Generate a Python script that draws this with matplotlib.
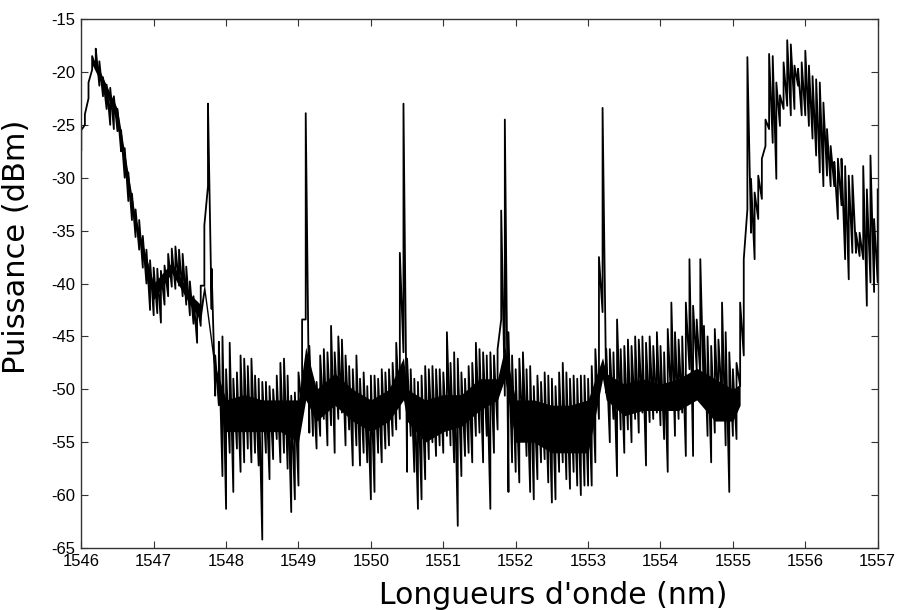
import numpy as np
import matplotlib.pyplot as plt

plt.rcParams['axes.unicode_minus'] = False

# wavelength grid (nm), one sample every 0.05 nm
wl = np.round(np.arange(1546.0, 1557.001, 0.05), 2)

# lower / upper trace level (dBm) seen at each sample
p_lo = [
    -27.4, -25.0, -22.5, -19.8, -19.5, -21.3, -22.3, -23.5, -25.0, -25.4,
    -25.6, -27.5, -30.0, -32.2, -34.0, -35.6, -36.8, -38.5, -40.0, -42.5,
    -43.0, -42.8, -43.7, -42.0, -41.2, -40.3, -40.5, -40.2, -41.2, -42.0,
    -43.0, -43.8, -45.6, -44.0, -40.2, -30.8, -42.4, -50.6, -51.5, -58.2,
    -61.3, -56.0, -59.7, -55.6, -57.8, -56.9, -55.6, -56.9, -56.0, -57.2,
    -64.2, -56.0, -58.5, -56.6, -54.7, -56.9, -56.0, -57.5, -61.6, -60.4,
    -59.1, -51.9, -43.4, -54.1, -54.4, -55.6, -54.4, -52.8, -55.3, -53.4,
    -56.0, -52.8, -52.2, -55.3, -53.8, -57.2, -55.3, -57.2, -56.0, -56.9,
    -60.4, -59.7, -56.0, -56.9, -55.6, -55.3, -54.4, -53.8, -52.8, -46.5,
    -57.8, -54.4, -57.8, -61.3, -60.4, -58.5, -56.6, -55.0, -56.3, -55.3,
    -56.0, -54.4, -55.3, -56.9, -62.9, -58.2, -56.3, -56.0, -56.9, -54.4,
    -54.1, -56.9, -54.4, -61.3, -56.0, -53.8, -43.4, -50.6, -59.7, -56.9,
    -57.8, -58.8, -54.4, -56.3, -59.7, -60.4, -58.5, -56.9, -56.6, -58.8,
    -60.7, -60.4, -57.8, -56.9, -58.5, -59.4, -57.8, -59.1, -60.0, -59.1,
    -59.1, -59.1, -56.9, -52.8, -42.7, -50.3, -55.0, -52.8, -58.2, -53.8,
    -56.0, -53.8, -55.0, -52.8, -54.1, -52.2, -57.2, -53.1, -52.8, -52.2,
    -53.4, -54.7, -57.8, -51.5, -54.4, -52.8, -52.2, -56.3, -48.1, -56.3,
    -48.1, -48.7, -51.2, -54.4, -56.9, -54.1, -52.8, -51.2, -55.3, -59.7,
    -54.4, -54.7, -49.7, -46.8, -33.0, -35.2, -37.7, -33.9, -32.0, -27.0,
    -25.4, -26.7, -30.1, -25.1, -23.5, -23.2, -24.1, -23.5, -21.3, -24.1,
    -24.1, -25.1, -26.3, -27.9, -29.5, -30.8, -29.8, -30.8, -30.8, -33.9,
    -32.6, -37.7, -39.6, -37.1, -37.1, -37.4, -37.7, -42.1, -39.9, -40.8,
    -39.9,
]
p_hi = [
    -25.5, -24.0, -21.0, -18.5, -17.8, -19.0, -20.5, -21.2, -21.5, -22.3,
    -23.5, -25.5, -27.2, -29.5, -31.5, -33.0, -34.0, -35.5, -36.8, -37.8,
    -38.5, -38.6, -38.8, -38.3, -37.2, -36.7, -36.5, -36.8, -37.2, -38.4,
    -39.8, -41.2, -41.8, -40.2, -34.5, -23.0, -38.6, -46.8, -45.5, -45.0,
    -48.1, -45.6, -49.0, -48.4, -46.8, -47.1, -47.8, -47.1, -48.7, -49.0,
    -49.3, -49.3, -49.7, -50.0, -48.7, -47.5, -47.1, -48.7, -50.6, -50.3,
    -48.4, -43.4, -23.9, -45.9, -49.0, -49.3, -46.8, -46.2, -46.5, -44.0,
    -46.5, -45.0, -45.3, -46.8, -47.8, -48.1, -46.8, -49.0, -48.4, -49.7,
    -48.7, -48.7, -49.0, -48.1, -48.4, -48.1, -47.5, -45.6, -37.1, -23.0,
    -47.1, -48.1, -49.0, -49.3, -48.7, -47.8, -48.1, -47.8, -48.1, -48.1,
    -48.4, -44.6, -47.5, -46.5, -47.1, -48.4, -49.0, -47.8, -47.5, -45.6,
    -46.2, -46.5, -46.8, -46.5, -46.8, -46.2, -33.1, -24.5, -44.6, -46.8,
    -48.1, -47.1, -46.5, -48.1, -47.8, -49.7, -48.7, -49.3, -48.4, -48.7,
    -49.0, -49.7, -48.4, -47.5, -48.4, -49.0, -48.7, -49.0, -48.7, -48.7,
    -49.0, -47.8, -46.2, -37.5, -23.4, -46.2, -46.2, -46.5, -43.4, -46.2,
    -45.9, -45.3, -45.9, -45.0, -45.3, -45.0, -45.6, -45.0, -45.9, -44.6,
    -45.9, -46.5, -44.3, -41.8, -44.6, -45.3, -45.0, -41.8, -37.7, -42.1,
    -43.4, -37.7, -44.0, -45.0, -45.9, -44.3, -45.3, -41.8, -44.6, -46.5,
    -48.1, -47.5, -41.8, -37.7, -18.6, -30.1, -31.4, -29.8, -28.2, -24.5,
    -18.3, -18.5, -21.0, -22.2, -19.1, -17.0, -17.4, -19.4, -19.7, -19.1,
    -18.0, -19.4, -20.4, -20.7, -21.0, -22.9, -25.4, -27.0, -28.5, -28.2,
    -28.2, -28.9, -29.8, -29.8, -35.2, -35.2, -28.9, -31.1, -27.9, -33.9,
    -31.1,
]

# dense (solid black) core of the noise band
core_wl = [1546.15, 1546.25, 1546.5, 1546.75, 1547.0, 1547.25, 1547.5,
           1547.65, 1547.7, 1547.85, 1548.0, 1548.25, 1548.5, 1548.75,
           1549.0, 1549.1, 1549.25, 1549.5, 1549.75, 1550.0, 1550.25,
           1550.45, 1550.5, 1550.75, 1551.0, 1551.25, 1551.5, 1551.75,
           1551.85, 1552.0, 1552.25, 1552.5, 1552.75, 1553.0, 1553.2,
           1553.25, 1553.5, 1553.75, 1554.0, 1554.25, 1554.5, 1554.75,
           1555.0, 1555.1]
core_lo = [-19.3, -20.7, -24.5, -34.7, -41.5, -39.0, -42.0,
           -43.5, -41.0, -48.8, -54.0, -54.0, -54.0, -54.0,
           -55.0, -51.0, -53.0, -51.5, -53.0, -54.0, -53.0,
           -51.0, -53.0, -55.0, -54.0, -53.5, -52.0, -51.0,
           -49.0, -55.0, -55.0, -56.0, -56.0, -56.0, -49.0,
           -51.0, -52.5, -52.0, -52.0, -52.0, -51.0, -53.0,
           -53.0, -51.5]
core_hi = [-18.7, -19.8, -23.5, -33.8, -40.0, -38.0, -41.0,
           -42.0, -40.0, -47.8, -51.0, -50.5, -51.0, -51.0,
           -51.0, -46.0, -50.0, -48.5, -50.0, -51.0, -50.0,
           -47.0, -50.0, -51.0, -50.5, -50.5, -49.0, -49.0,
           -46.0, -51.0, -51.0, -51.5, -51.5, -51.0, -47.0,
           -48.5, -49.5, -49.0, -49.5, -49.0, -48.0, -49.0,
           -50.0, -49.5]

xticks = np.arange(1546, 1558, 1)
yticks = np.arange(-65, -14, 5)

# each sample drawn as a stroke from its low to its high value
x = np.repeat(wl, 2)
y = np.column_stack([p_lo, p_hi]).ravel()

fig = plt.figure(figsize=(8.98, 6.10), dpi=100)
ax = fig.add_axes([0.0905, 0.1016, 0.8869, 0.8672])
ax.fill_between(core_wl, core_lo, core_hi, color='black', lw=0)
ax.plot(x, y, color='black', lw=1.3)

ax.set_xlim(1546, 1557)
ax.set_ylim(-65, -15)
ax.set_xticks(xticks)
ax.set_yticks(yticks)
ax.tick_params(direction='in', length=5, top=True, right=True,
               labelsize=12, pad=4, color='#333333')
for lab in ax.get_xticklabels() + ax.get_yticklabels():
    lab.set_fontfamily('Liberation Sans')
for s in ax.spines.values():
    s.set_color('#333333')
    s.set_linewidth(1.0)

ax.set_xlabel("Longueurs d'onde (nm)", fontsize=21.5)
ax.set_ylabel('Puissance (dBm)', fontsize=22)
ax.xaxis.set_label_coords(0.592, -0.062)
ax.yaxis.set_label_coords(-0.063, 0.569)

fig.savefig('out.png', dpi=100)
